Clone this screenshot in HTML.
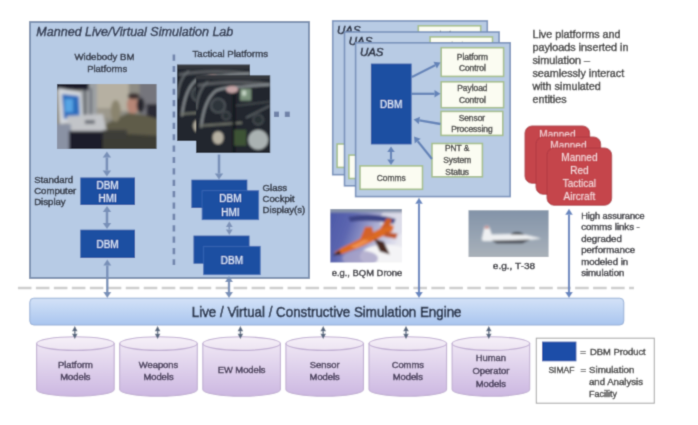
<!DOCTYPE html><html><head><meta charset="utf-8"><style>html,body{margin:0;padding:0;background:#fff;width:698px;height:425px;overflow:hidden}svg{display:block}text{font-family:"Liberation Sans", sans-serif}</style></head><body>
<svg width="698" height="425" viewBox="0 0 698 425">
<defs>
<filter id="b1" x="-20%" y="-20%" width="140%" height="140%"><feGaussianBlur stdDeviation="1.2"/></filter>
<filter id="b2" x="-20%" y="-20%" width="140%" height="140%"><feGaussianBlur stdDeviation="1.5"/></filter>
<filter id="bt" x="-5%" y="-20%" width="110%" height="140%"><feGaussianBlur stdDeviation="0.35"/></filter>
<linearGradient id="eng" x1="0" y1="0" x2="0" y2="1"><stop offset="0" stop-color="#d3e2f7"/><stop offset="1" stop-color="#a9c5ef"/></linearGradient>
<linearGradient id="cyl" x1="0" y1="0" x2="0" y2="1"><stop offset="0" stop-color="#eee6f4"/><stop offset="1" stop-color="#ccb7e1"/></linearGradient>
<linearGradient id="cyltop" x1="0" y1="0" x2="0" y2="1"><stop offset="0" stop-color="#f6f0f8"/><stop offset="1" stop-color="#ede4f2"/></linearGradient>
<linearGradient id="drone" x1="0" y1="0" x2="1" y2="0.3"><stop offset="0" stop-color="#4654a4"/><stop offset="0.35" stop-color="#5c66b0"/><stop offset="0.65" stop-color="#a8aad0"/><stop offset="1" stop-color="#e8e8f0"/></linearGradient>
<linearGradient id="t38" x1="0" y1="0" x2="0" y2="1"><stop offset="0" stop-color="#7f90a6"/><stop offset="0.6" stop-color="#9aa6b4"/><stop offset="1" stop-color="#aeb4ba"/></linearGradient>
</defs>
<defs><filter id="gb" x="0" y="0" width="698" height="425" filterUnits="userSpaceOnUse"><feConvolveMatrix order="3" kernelMatrix="0.02768 0.11101 0.02768 0.11101 0.44521 0.11101 0.02768 0.11101 0.02768" edgeMode="duplicate"/></filter></defs>
<g filter="url(#gb)"><rect width="698" height="425" fill="#fff"/>
<rect x="30" y="22" width="279" height="256" fill="#b7cbe5" stroke="#7d92b0" stroke-width="2" />
<text x="36.3" y="36.3" font-size="12.5" fill="#283048" stroke="#283048" stroke-width="0.4" textLength="197" lengthAdjust="spacingAndGlyphs" font-style="italic" >Manned Live/Virtual Simulation Lab</text>
<text x="74.5" y="60.3" font-size="9.6" fill="#2b2f3d" stroke="#2b2f3d" stroke-width="0.4" textLength="60" lengthAdjust="spacingAndGlyphs" >Widebody BM</text>
<text x="87.2" y="71.8" font-size="9.6" fill="#2b2f3d" stroke="#2b2f3d" stroke-width="0.4" textLength="40" lengthAdjust="spacingAndGlyphs" >Platforms</text>
<text x="192.5" y="56.5" font-size="9.6" fill="#2b2f3d" stroke="#2b2f3d" stroke-width="0.4" textLength="75.5" lengthAdjust="spacingAndGlyphs" >Tactical Platforms</text>
<line x1="173.9" y1="54.5" x2="173.9" y2="265" stroke="#6f84ac" stroke-width="2.6" stroke-dasharray="6.2 5.18"/>
<svg x="57" y="84" width="99.6" height="65" viewBox="0 0 100 65" overflow="hidden"><g filter="url(#b2)">
<rect x="-5" y="-5" width="110" height="75" fill="#8e8c84"/>
<rect x="39" y="-3" width="33" height="30" fill="#b6b0a2"/>
<rect x="39" y="24" width="20" height="10" fill="#9c988c"/>
<rect x="24" y="-3" width="16" height="40" fill="#9ca0a4"/>
<rect x="27" y="2" width="2.2" height="30" fill="#50545c"/>
<rect x="33" y="4" width="2" height="28" fill="#62666e"/>
<rect x="-5" y="-5" width="37" height="11" fill="#1a1e2c"/>
<path d="M1 4 L24 8 L26 37 L3 40 Z" fill="#d4d8de"/>
<path d="M5 10 L22 12 L23 33 L7 35 Z" fill="#2a6cbc"/>
<rect x="8" y="15" width="8" height="13" fill="#56a4e4"/>
<rect x="83" y="-5" width="22" height="38" fill="#74747c"/>
<rect x="90" y="20" width="15" height="16" fill="#2c2c34"/>
<ellipse cx="76" cy="21" rx="6" ry="9" fill="#b68676"/>
<ellipse cx="77" cy="12" rx="6" ry="3.2" fill="#3c3232"/>
<ellipse cx="84" cy="21" rx="4" ry="7.5" fill="#28282e"/>
<path d="M42 65 L46 42 L60 34 L72 29 L88 31 L105 36 L105 70 Z" fill="#5e5c4a"/>
<path d="M40 70 L44 54 L70 50 L105 52 L105 70 Z" fill="#3c3c34"/>
<ellipse cx="59" cy="27" rx="5" ry="11" fill="#8a846e"/>
<path d="M10 32 L46 30 L50 47 L12 49 Z" fill="#c2c4c8"/>
<rect x="28" y="36" width="10" height="4" fill="#6a6e76"/>
<rect x="-5" y="40" width="19" height="30" fill="#8a92a4"/>
<rect x="12" y="47" width="34" height="23" fill="#1c1e2a"/>
<rect x="46" y="46" width="24" height="10" fill="#3c3c38"/>
</g></svg>
<line x1="106.9" y1="157.5" x2="106.9" y2="170.5" stroke="#7890b8" stroke-width="2.6"/>
<polygon points="106.9,151.5 102.7,157.5 111.10000000000001,157.5" fill="#7890b8"/>
<polygon points="106.9,176.5 102.7,170.5 111.10000000000001,170.5" fill="#7890b8"/>
<line x1="107" y1="212" x2="107" y2="223" stroke="#7890b8" stroke-width="2.6"/>
<polygon points="107,206 102.8,212 111.2,212" fill="#7890b8"/>
<polygon points="107,229 102.8,223 111.2,223" fill="#7890b8"/>
<rect x="80.3" y="177.5" width="54.7" height="27.5" fill="#1f4fa2" />
<text x="107.6" y="188.5" font-size="10" fill="#dce6f6" stroke="#dce6f6" stroke-width="0.2" text-anchor="middle" >DBM</text>
<text x="107.6" y="201.5" font-size="10" fill="#dce6f6" stroke="#dce6f6" stroke-width="0.2" text-anchor="middle" >HMI</text>
<rect x="80.3" y="229.7" width="54.7" height="28.3" fill="#1f4fa2" />
<text x="107.6" y="247.5" font-size="10" fill="#dce6f6" stroke="#dce6f6" stroke-width="0.2" text-anchor="middle" >DBM</text>
<text x="34.2" y="182.8" font-size="9.6" fill="#262a36" stroke="#262a36" stroke-width="0.4" >Standard</text>
<text x="34.2" y="193.8" font-size="9.6" fill="#262a36" stroke="#262a36" stroke-width="0.4" >Computer</text>
<text x="34.2" y="204.6" font-size="9.6" fill="#262a36" stroke="#262a36" stroke-width="0.4" >Display</text>
<svg x="177" y="64.5" width="73" height="76.5" viewBox="0 0 74 77" overflow="hidden"><g filter="url(#b1)">
<rect x="-5" y="-5" width="90" height="90" fill="#24282e"/>
<rect x="-5" y="-5" width="90" height="9" fill="#34373c"/>
<path d="M2 10 Q36 4 74 9" stroke="#585c60" stroke-width="3" fill="none"/>
<path d="M5 52 Q8 24 20 15 Q30 11 46 11 L74 9" stroke="#8a9094" stroke-width="2.2" fill="none"/>
<path d="M0 34 Q2 14 12 6" stroke="#6c7276" stroke-width="1.6" fill="none"/>
<path d="M4 50 L46 47" stroke="#72766c" stroke-width="2" fill="none"/>
<path d="M38 15 L38 77" stroke="#15171b" stroke-width="3" fill="none"/>
<path d="M50 42 L74 30" stroke="#60666a" stroke-width="1.6" fill="none"/>
<path d="M40 30 L74 26" stroke="#4c5256" stroke-width="1.4" fill="none"/>
<circle cx="22" cy="30" r="7" stroke="#5a6066" stroke-width="1.4" fill="#2e343a"/>
<circle cx="30" cy="40" r="4" stroke="#50565c" stroke-width="1.2" fill="#2a3036"/>
<circle cx="62" cy="44" r="5" stroke="#50565c" stroke-width="1.2" fill="#2a3036"/>
<rect x="44" y="13" width="11" height="12" fill="#7a927c"/>
<rect x="46" y="15" width="4" height="5" fill="#c4d4c4"/>
<ellipse cx="36" cy="14" rx="6" ry="3.5" fill="#c4a4a6"/>
<ellipse cx="62" cy="64" rx="10" ry="10" fill="#aab2b2"/>
<ellipse cx="22" cy="62" rx="5.5" ry="6.5" fill="#b6b0a2"/>
<rect x="38" y="54" width="12" height="16" fill="#3c5234"/>
</g></svg>
<svg x="196" y="75.3" width="74.2" height="77.7" viewBox="0 0 74 77" overflow="hidden"><g filter="url(#b1)">
<rect x="-5" y="-5" width="90" height="90" fill="#24282e"/>
<rect x="-5" y="-5" width="90" height="9" fill="#34373c"/>
<path d="M2 10 Q36 4 74 9" stroke="#585c60" stroke-width="3" fill="none"/>
<path d="M5 52 Q8 24 20 15 Q30 11 46 11 L74 9" stroke="#8a9094" stroke-width="2.2" fill="none"/>
<path d="M0 34 Q2 14 12 6" stroke="#6c7276" stroke-width="1.6" fill="none"/>
<path d="M4 50 L46 47" stroke="#72766c" stroke-width="2" fill="none"/>
<path d="M38 15 L38 77" stroke="#15171b" stroke-width="3" fill="none"/>
<path d="M50 42 L74 30" stroke="#60666a" stroke-width="1.6" fill="none"/>
<path d="M40 30 L74 26" stroke="#4c5256" stroke-width="1.4" fill="none"/>
<circle cx="22" cy="30" r="7" stroke="#5a6066" stroke-width="1.4" fill="#2e343a"/>
<circle cx="30" cy="40" r="4" stroke="#50565c" stroke-width="1.2" fill="#2a3036"/>
<circle cx="62" cy="44" r="5" stroke="#50565c" stroke-width="1.2" fill="#2a3036"/>
<rect x="44" y="13" width="11" height="12" fill="#7a927c"/>
<rect x="46" y="15" width="4" height="5" fill="#c4d4c4"/>
<ellipse cx="36" cy="14" rx="6" ry="3.5" fill="#c4a4a6"/>
<ellipse cx="62" cy="64" rx="10" ry="10" fill="#aab2b2"/>
<ellipse cx="22" cy="62" rx="5.5" ry="6.5" fill="#b6b0a2"/>
<rect x="38" y="54" width="12" height="16" fill="#3c5234"/>
</g></svg>
<rect x="274" y="111.6" width="5" height="5.4" fill="#6f82a8" />
<rect x="284.8" y="111.6" width="5" height="5.4" fill="#6f82a8" />
<line x1="219" y1="154.5" x2="219" y2="173.5" stroke="#7890b8" stroke-width="2.6"/>
<polygon points="219,179.5 214.8,173.5 223.2,173.5" fill="#7890b8"/>
<rect x="191.4" y="179.7" width="55.9" height="28.3" fill="#1f4fa2" />
<rect x="202.1" y="190.7" width="56.6" height="29" fill="#1f4fa2" stroke="#3a68b6" stroke-width="0.8" />
<text x="230.4" y="201.5" font-size="10" fill="#dce6f6" stroke="#dce6f6" stroke-width="0.2" text-anchor="middle" >DBM</text>
<text x="230.4" y="215.5" font-size="10" fill="#dce6f6" stroke="#dce6f6" stroke-width="0.2" text-anchor="middle" >HMI</text>
<rect x="193.5" y="235.6" width="56" height="28.1" fill="#1f4fa2" />
<rect x="203.6" y="246.3" width="56.6" height="28.4" fill="#1f4fa2" stroke="#3a68b6" stroke-width="0.8" />
<text x="231.9" y="263.8" font-size="10" fill="#dce6f6" stroke="#dce6f6" stroke-width="0.2" text-anchor="middle" >DBM</text>
<line x1="229.3" y1="226.9" x2="229.3" y2="229.4" stroke="#7d92b8" stroke-width="1.6"/>
<polygon points="229.3,221.3 225.9,226.9 232.70000000000002,226.9" fill="#7d92b8"/>
<polygon points="229.3,235 225.9,229.4 232.70000000000002,229.4" fill="#7d92b8"/>
<text x="262.6" y="190.5" font-size="9.6" fill="#262a36" stroke="#262a36" stroke-width="0.4" >Glass</text>
<text x="262.6" y="202.2" font-size="9.6" fill="#262a36" stroke="#262a36" stroke-width="0.4" >Cockpit</text>
<text x="262.6" y="212.8" font-size="9.6" fill="#262a36" stroke="#262a36" stroke-width="0.4" >Display(s)</text>
<rect x="332.7" y="20.900000000000002" width="154.6" height="153.8" fill="#b8cbe4" stroke="#7892bb" stroke-width="1.6" />
<text x="337.0" y="34.0" font-size="11.5" fill="#1f2538" stroke="#1f2538" stroke-width="0.55" font-style="italic" >UAS</text>
<rect x="348.0" y="41.7" width="40.7" height="80.8" fill="#1f4fa2" />
<text x="368.3" y="86.30000000000001" font-size="10" fill="#dce6f6" stroke="#dce6f6" stroke-width="0.2" text-anchor="middle" >DBM</text>
<rect x="418.3" y="25.800000000000004" width="62.4" height="28.7" fill="#fbfcf2" stroke="#a6bf8c" stroke-width="1.6" />
<text x="449.5" y="37.7" font-size="8.4" fill="#3d3d3d" stroke="#3d3d3d" stroke-width="0.4" text-anchor="middle" >Platform</text>
<text x="449.5" y="48.800000000000004" font-size="8.4" fill="#3d3d3d" stroke="#3d3d3d" stroke-width="0.4" text-anchor="middle" >Control</text>
<rect x="418.3" y="59.9" width="62.4" height="25.9" fill="#fbfcf2" stroke="#a6bf8c" stroke-width="1.6" />
<text x="449.5" y="68.80000000000001" font-size="8.4" fill="#3d3d3d" stroke="#3d3d3d" stroke-width="0.4" text-anchor="middle" >Payload</text>
<text x="449.5" y="80.6" font-size="8.4" fill="#3d3d3d" stroke="#3d3d3d" stroke-width="0.4" text-anchor="middle" >Control</text>
<rect x="418.1" y="89.5" width="61.8" height="24" fill="#fbfcf2" stroke="#a6bf8c" stroke-width="1.6" />
<text x="449.0" y="98.80000000000001" font-size="8.4" fill="#3d3d3d" stroke="#3d3d3d" stroke-width="0.4" text-anchor="middle" >Sensor</text>
<text x="449.0" y="109.69999999999999" font-size="8.4" fill="#3d3d3d" stroke="#3d3d3d" stroke-width="0.4" text-anchor="middle" >Processing</text>
<rect x="409.1" y="121.6" width="50.4" height="33.3" fill="#fbfcf2" stroke="#a6bf8c" stroke-width="1.6" />
<text x="434.3" y="129.5" font-size="8.4" fill="#3d3d3d" stroke="#3d3d3d" stroke-width="0.4" text-anchor="middle" >PNT &amp;</text>
<text x="434.3" y="141.0" font-size="8.4" fill="#3d3d3d" stroke="#3d3d3d" stroke-width="0.4" text-anchor="middle" >System</text>
<text x="434.3" y="153.2" font-size="8.4" fill="#3d3d3d" stroke="#3d3d3d" stroke-width="0.4" text-anchor="middle" >Status</text>
<rect x="337.1" y="144.0" width="62.5" height="23.4" fill="#fbfcf2" stroke="#a6bf8c" stroke-width="1.6" />
<text x="368.35" y="159.1" font-size="8.4" fill="#3d3d3d" stroke="#3d3d3d" stroke-width="0.4" text-anchor="middle" >Comms</text>
<line x1="389.1" y1="55.1" x2="412.25" y2="43.32" stroke="#6383b8" stroke-width="2.3"/>
<polygon points="417.6,40.6 413.98,46.71 410.53,39.93" fill="#6383b8"/>
<line x1="389.1" y1="71.9" x2="411.60" y2="71.90" stroke="#6383b8" stroke-width="2.3"/>
<polygon points="417.6,71.9 411.60,75.70 411.60,68.10" fill="#6383b8"/>
<line x1="417.6" y1="102.1" x2="396.52" y2="98.59" stroke="#6383b8" stroke-width="2.3"/>
<polygon points="390.6,97.6 397.14,94.84 395.89,102.33" fill="#6383b8"/>
<line x1="409.1" y1="137.1" x2="394.85" y2="119.29" stroke="#6383b8" stroke-width="2.3"/>
<polygon points="391.1,114.6 397.82,116.91 391.88,121.66" fill="#6383b8"/>
<line x1="368.1" y1="130.1" x2="368.1" y2="137.6" stroke="#6383b8" stroke-width="2.2"/>
<polygon points="368.1,124.6 364.3,130.1 371.90000000000003,130.1" fill="#6383b8"/>
<polygon points="368.1,143.1 364.3,137.6 371.90000000000003,137.6" fill="#6383b8"/>
<rect x="344.49999999999994" y="32.0" width="154.6" height="153.8" fill="#b8cbe4" stroke="#7892bb" stroke-width="1.6" />
<text x="348.79999999999995" y="45.1" font-size="11.5" fill="#1f2538" stroke="#1f2538" stroke-width="0.55" font-style="italic" >UAS</text>
<rect x="359.79999999999995" y="52.8" width="40.7" height="80.8" fill="#1f4fa2" />
<text x="380.09999999999997" y="97.4" font-size="10" fill="#dce6f6" stroke="#dce6f6" stroke-width="0.2" text-anchor="middle" >DBM</text>
<rect x="430.09999999999997" y="36.900000000000006" width="62.4" height="28.7" fill="#fbfcf2" stroke="#a6bf8c" stroke-width="1.6" />
<text x="461.29999999999995" y="48.8" font-size="8.4" fill="#3d3d3d" stroke="#3d3d3d" stroke-width="0.4" text-anchor="middle" >Platform</text>
<text x="461.29999999999995" y="59.900000000000006" font-size="8.4" fill="#3d3d3d" stroke="#3d3d3d" stroke-width="0.4" text-anchor="middle" >Control</text>
<rect x="430.09999999999997" y="71.0" width="62.4" height="25.9" fill="#fbfcf2" stroke="#a6bf8c" stroke-width="1.6" />
<text x="461.29999999999995" y="79.9" font-size="8.4" fill="#3d3d3d" stroke="#3d3d3d" stroke-width="0.4" text-anchor="middle" >Payload</text>
<text x="461.29999999999995" y="91.7" font-size="8.4" fill="#3d3d3d" stroke="#3d3d3d" stroke-width="0.4" text-anchor="middle" >Control</text>
<rect x="429.9" y="100.60000000000001" width="61.8" height="24" fill="#fbfcf2" stroke="#a6bf8c" stroke-width="1.6" />
<text x="460.79999999999995" y="109.9" font-size="8.4" fill="#3d3d3d" stroke="#3d3d3d" stroke-width="0.4" text-anchor="middle" >Sensor</text>
<text x="460.79999999999995" y="120.8" font-size="8.4" fill="#3d3d3d" stroke="#3d3d3d" stroke-width="0.4" text-anchor="middle" >Processing</text>
<rect x="420.9" y="132.7" width="50.4" height="33.3" fill="#fbfcf2" stroke="#a6bf8c" stroke-width="1.6" />
<text x="446.09999999999997" y="140.6" font-size="8.4" fill="#3d3d3d" stroke="#3d3d3d" stroke-width="0.4" text-anchor="middle" >PNT &amp;</text>
<text x="446.09999999999997" y="152.1" font-size="8.4" fill="#3d3d3d" stroke="#3d3d3d" stroke-width="0.4" text-anchor="middle" >System</text>
<text x="446.09999999999997" y="164.29999999999998" font-size="8.4" fill="#3d3d3d" stroke="#3d3d3d" stroke-width="0.4" text-anchor="middle" >Status</text>
<rect x="348.9" y="155.1" width="62.5" height="23.4" fill="#fbfcf2" stroke="#a6bf8c" stroke-width="1.6" />
<text x="380.15" y="170.2" font-size="8.4" fill="#3d3d3d" stroke="#3d3d3d" stroke-width="0.4" text-anchor="middle" >Comms</text>
<line x1="400.9" y1="66.2" x2="424.05" y2="54.42" stroke="#6383b8" stroke-width="2.3"/>
<polygon points="429.4,51.7 425.78,57.81 422.33,51.03" fill="#6383b8"/>
<line x1="400.9" y1="83.0" x2="423.40" y2="83.00" stroke="#6383b8" stroke-width="2.3"/>
<polygon points="429.4,83.0 423.40,86.80 423.40,79.20" fill="#6383b8"/>
<line x1="429.4" y1="113.2" x2="408.32" y2="109.69" stroke="#6383b8" stroke-width="2.3"/>
<polygon points="402.4,108.7 408.94,105.94 407.69,113.43" fill="#6383b8"/>
<line x1="420.9" y1="148.2" x2="406.65" y2="130.39" stroke="#6383b8" stroke-width="2.3"/>
<polygon points="402.9,125.7 409.62,128.01 403.68,132.76" fill="#6383b8"/>
<line x1="379.9" y1="141.2" x2="379.9" y2="148.7" stroke="#6383b8" stroke-width="2.2"/>
<polygon points="379.9,135.7 376.09999999999997,141.2 383.7,141.2" fill="#6383b8"/>
<polygon points="379.9,154.2 376.09999999999997,148.7 383.7,148.7" fill="#6383b8"/>
<rect x="355.59999999999997" y="42.8" width="154.6" height="153.8" fill="#b8cbe4" stroke="#7892bb" stroke-width="1.6" />
<text x="359.9" y="55.9" font-size="11.5" fill="#1f2538" stroke="#1f2538" stroke-width="0.55" font-style="italic" >UAS</text>
<rect x="370.9" y="63.6" width="40.7" height="80.8" fill="#1f4fa2" />
<text x="391.2" y="108.2" font-size="10" fill="#dce6f6" stroke="#dce6f6" stroke-width="0.2" text-anchor="middle" >DBM</text>
<rect x="441.2" y="47.7" width="62.4" height="28.7" fill="#fbfcf2" stroke="#a6bf8c" stroke-width="1.6" />
<text x="472.4" y="59.6" font-size="8.4" fill="#3d3d3d" stroke="#3d3d3d" stroke-width="0.4" text-anchor="middle" >Platform</text>
<text x="472.4" y="70.7" font-size="8.4" fill="#3d3d3d" stroke="#3d3d3d" stroke-width="0.4" text-anchor="middle" >Control</text>
<rect x="441.2" y="81.8" width="62.4" height="25.9" fill="#fbfcf2" stroke="#a6bf8c" stroke-width="1.6" />
<text x="472.4" y="90.7" font-size="8.4" fill="#3d3d3d" stroke="#3d3d3d" stroke-width="0.4" text-anchor="middle" >Payload</text>
<text x="472.4" y="102.5" font-size="8.4" fill="#3d3d3d" stroke="#3d3d3d" stroke-width="0.4" text-anchor="middle" >Control</text>
<rect x="441" y="111.4" width="61.8" height="24" fill="#fbfcf2" stroke="#a6bf8c" stroke-width="1.6" />
<text x="471.9" y="120.7" font-size="8.4" fill="#3d3d3d" stroke="#3d3d3d" stroke-width="0.4" text-anchor="middle" >Sensor</text>
<text x="471.9" y="131.6" font-size="8.4" fill="#3d3d3d" stroke="#3d3d3d" stroke-width="0.4" text-anchor="middle" >Processing</text>
<rect x="432" y="143.5" width="50.4" height="33.3" fill="#fbfcf2" stroke="#a6bf8c" stroke-width="1.6" />
<text x="457.2" y="151.4" font-size="8.4" fill="#3d3d3d" stroke="#3d3d3d" stroke-width="0.4" text-anchor="middle" >PNT &amp;</text>
<text x="457.2" y="162.9" font-size="8.4" fill="#3d3d3d" stroke="#3d3d3d" stroke-width="0.4" text-anchor="middle" >System</text>
<text x="457.2" y="175.1" font-size="8.4" fill="#3d3d3d" stroke="#3d3d3d" stroke-width="0.4" text-anchor="middle" >Status</text>
<rect x="360" y="165.9" width="62.5" height="23.4" fill="#fbfcf2" stroke="#a6bf8c" stroke-width="1.6" />
<text x="391.25" y="181" font-size="8.4" fill="#3d3d3d" stroke="#3d3d3d" stroke-width="0.4" text-anchor="middle" >Comms</text>
<line x1="412" y1="77" x2="435.15" y2="65.22" stroke="#6383b8" stroke-width="2.3"/>
<polygon points="440.5,62.5 436.88,68.61 433.43,61.83" fill="#6383b8"/>
<line x1="412" y1="93.8" x2="434.50" y2="93.80" stroke="#6383b8" stroke-width="2.3"/>
<polygon points="440.5,93.8 434.50,97.60 434.50,90.00" fill="#6383b8"/>
<line x1="440.5" y1="124" x2="419.42" y2="120.49" stroke="#6383b8" stroke-width="2.3"/>
<polygon points="413.5,119.5 420.04,116.74 418.79,124.23" fill="#6383b8"/>
<line x1="432" y1="159" x2="417.75" y2="141.19" stroke="#6383b8" stroke-width="2.3"/>
<polygon points="414,136.5 420.72,138.81 414.78,143.56" fill="#6383b8"/>
<line x1="391" y1="152.0" x2="391" y2="159.5" stroke="#6383b8" stroke-width="2.2"/>
<polygon points="391,146.5 387.2,152.0 394.8,152.0" fill="#6383b8"/>
<polygon points="391,165 387.2,159.5 394.8,159.5" fill="#6383b8"/>
<text x="532.4" y="37.6" font-size="10.8" fill="#333333" stroke="#333333" stroke-width="0.4" >Live platforms and</text>
<text x="532.4" y="50.7" font-size="10.8" fill="#333333" stroke="#333333" stroke-width="0.4" >payloads inserted in</text>
<text x="532.4" y="63.8" font-size="10.8" fill="#333333" stroke="#333333" stroke-width="0.4" >simulation –</text>
<text x="532.4" y="76.9" font-size="10.8" fill="#333333" stroke="#333333" stroke-width="0.4" >seamlessly interact</text>
<text x="532.4" y="90.0" font-size="10.8" fill="#333333" stroke="#333333" stroke-width="0.4" >with simulated</text>
<text x="532.4" y="103.1" font-size="10.8" fill="#333333" stroke="#333333" stroke-width="0.4" >entities</text>
<rect x="525" y="126" width="64.7" height="57.2" fill="#c5444c" stroke="#b03a42" stroke-width="1" rx="7" />
<text x="557.4" y="137.5" font-size="10" fill="#f2cfd2" stroke="#f2cfd2" stroke-width="0.1" text-anchor="middle" >Manned</text>
<rect x="536" y="137" width="64.7" height="57.2" fill="#c5444c" stroke="#b03a42" stroke-width="1" rx="7" />
<text x="568.4" y="148.5" font-size="10" fill="#f2cfd2" stroke="#f2cfd2" stroke-width="0.1" text-anchor="middle" >Manned</text>
<rect x="547" y="148" width="64.7" height="57.2" fill="#c5444c" stroke="#b03a42" stroke-width="1" rx="7" />
<text x="579.4" y="160.5" font-size="10" fill="#f4d6d8" stroke="#f4d6d8" stroke-width="0.1" text-anchor="middle" >Manned</text>
<text x="579.4" y="173.6" font-size="10" fill="#f4d6d8" stroke="#f4d6d8" stroke-width="0.1" text-anchor="middle" >Red</text>
<text x="579.4" y="186.7" font-size="10" fill="#f4d6d8" stroke="#f4d6d8" stroke-width="0.1" text-anchor="middle" >Tactical</text>
<text x="579.4" y="199.8" font-size="10" fill="#f4d6d8" stroke="#f4d6d8" stroke-width="0.1" text-anchor="middle" >Aircraft</text>
<svg x="330.3" y="209" width="71.6" height="53.4" viewBox="0 0 72 54" overflow="hidden"><g filter="url(#b1)">
<rect x="-5" y="-5" width="82" height="64" fill="url(#drone)"/>
<ellipse cx="66" cy="12" rx="16" ry="14" fill="#dcdce8" opacity="0.9"/>
<ellipse cx="56" cy="48" rx="26" ry="12" fill="#f4f4f6"/>
<ellipse cx="30" cy="50" rx="18" ry="8" fill="#a8a2c8" opacity="0.8"/>
<rect x="-5" y="-5" width="82" height="8.5" fill="#8894aa"/>
<path d="M18 8 Q40 3 66 10 L64 15 Q42 10 20 13 Z" fill="#3c4486"/>
<path d="M4 44 L12 39 L28 31 L46 22 L58 16 L64 17 L63 22 L50 29 L34 37 L16 44 L7 47 Z" fill="#dc6a24"/>
<path d="M20 38 L34 31 L40 32 L26 40 Z" fill="#ee9050"/>
<path d="M30 30 L35 18 L42 18 L44 27 Z" fill="#d4622a"/>
<path d="M50 20 L57 9 L62 10 L60 18 Z" fill="#cc5e28"/>
<path d="M56 23 L68 25 L66 30 L54 28 Z" fill="#c0582a"/>
<path d="M44 30 L54 33 L60 46 L50 43 Z" fill="#4a2a24"/>
<path d="M2 47 L9 42 L11 46 Z" fill="#281c1c"/>
</g></svg>
<text x="331.7" y="276.3" font-size="9.4" fill="#2b2b33" stroke="#2b2b33" stroke-width="0.4" textLength="70.5" lengthAdjust="spacingAndGlyphs" >e.g., BQM Drone</text>
<svg x="468.5" y="210.3" width="80.1" height="46.6" viewBox="0 0 80 47" overflow="hidden"><g filter="url(#b1)">
<rect x="-5" y="-5" width="90" height="57" fill="url(#t38)"/>
<path d="M13 29 L16 15.5 L20 15.5 L23 24.5 L46 24 L58 25 L73 28.5 L60 30 L30 31 L14 31 Z" fill="#eef0f2"/>
<path d="M16 16 L20 16 L20 18.5 L16 18.5 Z" fill="#c08484"/>
<path d="M42 24.5 Q48 19.5 56 24.5 Z" fill="#2a3038"/>
<path d="M23 30.5 L62 29.5 L54 33.5 L28 33.5 Z" fill="#4a4e56"/>
</g></svg>
<text x="492.8" y="269.3" font-size="9.6" fill="#2b2b33" stroke="#2b2b33" stroke-width="0.4" textLength="42.4" lengthAdjust="spacingAndGlyphs" >e.g., T-38</text>
<text x="581.2" y="219.0" font-size="9.6" fill="#2b2b33" stroke="#2b2b33" stroke-width="0.4" textLength="63.5" lengthAdjust="spacingAndGlyphs" >High assurance</text>
<text x="581.2" y="230.45" font-size="9.6" fill="#2b2b33" stroke="#2b2b33" stroke-width="0.4" >comms links -</text>
<text x="581.2" y="241.9" font-size="9.6" fill="#2b2b33" stroke="#2b2b33" stroke-width="0.4" >degraded</text>
<text x="581.2" y="253.35" font-size="9.6" fill="#2b2b33" stroke="#2b2b33" stroke-width="0.4" >performance</text>
<text x="581.2" y="264.8" font-size="9.6" fill="#2b2b33" stroke="#2b2b33" stroke-width="0.4" >modeled in</text>
<text x="581.2" y="276.25" font-size="9.6" fill="#2b2b33" stroke="#2b2b33" stroke-width="0.4" >simulation</text>
<line x1="17.9" y1="288" x2="634" y2="288" stroke="#cdcdcd" stroke-width="2.4" stroke-dasharray="13.6 4.375"/>
<line x1="107.3" y1="265.5" x2="107.3" y2="292" stroke="#7890b8" stroke-width="2.4"/>
<polygon points="107.3,259.5 103.3,265.5 111.3,265.5" fill="#7890b8"/>
<polygon points="107.3,298 103.3,292 111.3,292" fill="#7890b8"/>
<line x1="229" y1="282" x2="229" y2="292" stroke="#7890b8" stroke-width="2.4"/>
<polygon points="229,276 225,282 233,282" fill="#7890b8"/>
<polygon points="229,298 225,292 233,292" fill="#7890b8"/>
<line x1="419" y1="203.8" x2="419" y2="292" stroke="#6686c0" stroke-width="2.2"/>
<polygon points="419,197.8 415.2,203.8 422.8,203.8" fill="#6686c0"/>
<polygon points="419,298 415.2,292 422.8,292" fill="#6686c0"/>
<line x1="569" y1="214.8" x2="569" y2="292" stroke="#6686c0" stroke-width="2.2"/>
<polygon points="569,208.8 565.2,214.8 572.8,214.8" fill="#6686c0"/>
<polygon points="569,298 565.2,292 572.8,292" fill="#6686c0"/>
<rect x="29.8" y="298.2" width="594" height="26.8" fill="url(#eng)" stroke="#94aed6" stroke-width="1" rx="4" />
<text x="191.8" y="316.5" font-size="14.4" fill="#1f2a42" stroke="#1f2a42" stroke-width="0.55" textLength="269.7" lengthAdjust="spacingAndGlyphs" >Live / Virtual / Constructive Simulation Engine</text>
<path d="M36.6 343.6 L36.6 389.5 A38.8 6.8 0 0 0 114.19999999999999 389.5 L114.19999999999999 343.6 Z" fill="url(#cyl)" stroke="#c0aed2" stroke-width="1.1"/>
<ellipse cx="75.4" cy="343.6" rx="38.8" ry="6.8" fill="url(#cyltop)" stroke="#c0aed2" stroke-width="1.1"/>
<text x="75.4" y="367.5" font-size="9.4" fill="#3c3350" stroke="#3c3350" stroke-width="0.4" text-anchor="middle" >Platform</text>
<text x="75.4" y="380" font-size="9.4" fill="#3c3350" stroke="#3c3350" stroke-width="0.4" text-anchor="middle" >Models</text>
<line x1="74.8" y1="331.2" x2="74.8" y2="333.8" stroke="#56667e" stroke-width="1.4"/>
<polygon points="74.8,326 72.0,331.2 77.6,331.2" fill="#56667e"/>
<polygon points="74.8,339 72.0,333.8 77.6,333.8" fill="#56667e"/>
<path d="M119.69999999999999 343.6 L119.69999999999999 389.5 A38.8 6.8 0 0 0 197.29999999999998 389.5 L197.29999999999998 343.6 Z" fill="url(#cyl)" stroke="#c0aed2" stroke-width="1.1"/>
<ellipse cx="158.5" cy="343.6" rx="38.8" ry="6.8" fill="url(#cyltop)" stroke="#c0aed2" stroke-width="1.1"/>
<text x="158.5" y="367.5" font-size="9.4" fill="#3c3350" stroke="#3c3350" stroke-width="0.4" text-anchor="middle" >Weapons</text>
<text x="158.5" y="380" font-size="9.4" fill="#3c3350" stroke="#3c3350" stroke-width="0.4" text-anchor="middle" >Models</text>
<line x1="157.6" y1="331.2" x2="157.6" y2="333.8" stroke="#56667e" stroke-width="1.4"/>
<polygon points="157.6,326 154.79999999999998,331.2 160.4,331.2" fill="#56667e"/>
<polygon points="157.6,339 154.79999999999998,333.8 160.4,333.8" fill="#56667e"/>
<path d="M202.79999999999998 343.6 L202.79999999999998 389.5 A38.8 6.8 0 0 0 280.4 389.5 L280.4 343.6 Z" fill="url(#cyl)" stroke="#c0aed2" stroke-width="1.1"/>
<ellipse cx="241.59999999999997" cy="343.6" rx="38.8" ry="6.8" fill="url(#cyltop)" stroke="#c0aed2" stroke-width="1.1"/>
<text x="241.59999999999997" y="373" font-size="9.4" fill="#3c3350" stroke="#3c3350" stroke-width="0.4" text-anchor="middle" >EW Models</text>
<line x1="240.39999999999998" y1="331.2" x2="240.39999999999998" y2="333.8" stroke="#56667e" stroke-width="1.4"/>
<polygon points="240.39999999999998,326 237.59999999999997,331.2 243.2,331.2" fill="#56667e"/>
<polygon points="240.39999999999998,339 237.59999999999997,333.8 243.2,333.8" fill="#56667e"/>
<path d="M285.9 343.6 L285.9 389.5 A38.8 6.8 0 0 0 363.5 389.5 L363.5 343.6 Z" fill="url(#cyl)" stroke="#c0aed2" stroke-width="1.1"/>
<ellipse cx="324.7" cy="343.6" rx="38.8" ry="6.8" fill="url(#cyltop)" stroke="#c0aed2" stroke-width="1.1"/>
<text x="324.7" y="367.5" font-size="9.4" fill="#3c3350" stroke="#3c3350" stroke-width="0.4" text-anchor="middle" >Sensor</text>
<text x="324.7" y="380" font-size="9.4" fill="#3c3350" stroke="#3c3350" stroke-width="0.4" text-anchor="middle" >Models</text>
<line x1="323.2" y1="331.2" x2="323.2" y2="333.8" stroke="#56667e" stroke-width="1.4"/>
<polygon points="323.2,326 320.4,331.2 326.0,331.2" fill="#56667e"/>
<polygon points="323.2,339 320.4,333.8 326.0,333.8" fill="#56667e"/>
<path d="M369.0 343.6 L369.0 389.5 A38.8 6.8 0 0 0 446.6 389.5 L446.6 343.6 Z" fill="url(#cyl)" stroke="#c0aed2" stroke-width="1.1"/>
<ellipse cx="407.8" cy="343.6" rx="38.8" ry="6.8" fill="url(#cyltop)" stroke="#c0aed2" stroke-width="1.1"/>
<text x="407.8" y="367.5" font-size="9.4" fill="#3c3350" stroke="#3c3350" stroke-width="0.4" text-anchor="middle" >Comms</text>
<text x="407.8" y="380" font-size="9.4" fill="#3c3350" stroke="#3c3350" stroke-width="0.4" text-anchor="middle" >Models</text>
<line x1="406.0" y1="331.2" x2="406.0" y2="333.8" stroke="#56667e" stroke-width="1.4"/>
<polygon points="406.0,326 403.2,331.2 408.8,331.2" fill="#56667e"/>
<polygon points="406.0,339 403.2,333.8 408.8,333.8" fill="#56667e"/>
<path d="M452.1 343.6 L452.1 389.5 A38.8 6.8 0 0 0 529.7 389.5 L529.7 343.6 Z" fill="url(#cyl)" stroke="#c0aed2" stroke-width="1.1"/>
<ellipse cx="490.90000000000003" cy="343.6" rx="38.8" ry="6.8" fill="url(#cyltop)" stroke="#c0aed2" stroke-width="1.1"/>
<text x="490.90000000000003" y="360.5" font-size="9.4" fill="#3c3350" stroke="#3c3350" stroke-width="0.4" text-anchor="middle" >Human</text>
<text x="490.90000000000003" y="373.5" font-size="9.4" fill="#3c3350" stroke="#3c3350" stroke-width="0.4" text-anchor="middle" >Operator</text>
<text x="490.90000000000003" y="386.5" font-size="9.4" fill="#3c3350" stroke="#3c3350" stroke-width="0.4" text-anchor="middle" >Models</text>
<line x1="488.8" y1="331.2" x2="488.8" y2="333.8" stroke="#56667e" stroke-width="1.4"/>
<polygon points="488.8,326 486.0,331.2 491.6,331.2" fill="#56667e"/>
<polygon points="488.8,339 486.0,333.8 491.6,333.8" fill="#56667e"/>
<rect x="536.3" y="338.2" width="118" height="65" fill="#ffffff" stroke="#a0a0a0" stroke-width="1" />
<rect x="542" y="341.6" width="34.4" height="19.7" fill="#1f4ea8" />
<text x="580.3" y="354.6" font-size="9.8" fill="#333333" stroke="#333333" stroke-width="0.4" >=</text>
<text x="590" y="354.6" font-size="9.8" fill="#333333" stroke="#333333" stroke-width="0.4" textLength="55.7" lengthAdjust="spacingAndGlyphs" >DBM Product</text>
<text x="548.4" y="373.3" font-size="9.8" fill="#333333" stroke="#333333" stroke-width="0.4" textLength="26" lengthAdjust="spacingAndGlyphs" >SIMAF</text>
<text x="580.5" y="373.3" font-size="9.8" fill="#333333" stroke="#333333" stroke-width="0.4" >=</text>
<text x="589" y="373.3" font-size="9.8" fill="#333333" stroke="#333333" stroke-width="0.4" textLength="45.4" lengthAdjust="spacingAndGlyphs" >Simulation</text>
<text x="589" y="385.2" font-size="9.8" fill="#333333" stroke="#333333" stroke-width="0.4" textLength="54" lengthAdjust="spacingAndGlyphs" >and Analysis</text>
<text x="589" y="397" font-size="9.8" fill="#333333" stroke="#333333" stroke-width="0.4" textLength="28" lengthAdjust="spacingAndGlyphs" >Facility</text>
</g></svg></body></html>
